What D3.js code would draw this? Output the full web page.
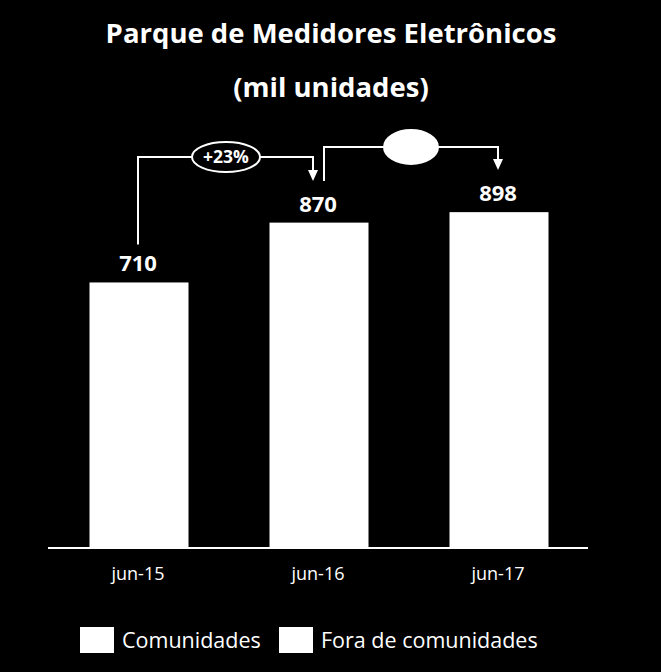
<!DOCTYPE html>
<html>
<head>
<meta charset="utf-8">
<script src="https://cdn.jsdelivr.net/npm/d3@7"></script>
<style>
  html, body { margin: 0; padding: 0; background: #000; }
  svg { display: block; }
  text { font-family: "Open Sans", Lato, sans-serif; fill: #fff; }
</style>
</head>
<body>
<div id="chart"></div>
<script>
// data
var categories = ["jun-15", "jun-16", "jun-17"];
var values = [710, 870, 898];
var growthLabels = ["+23%", ""];
var legendLabels = ["Comunidades", "Fora de comunidades"];
var titleLines = ["Parque de Medidores Eletrônicos", "(mil unidades)"];

var width = 661, height = 672;

var svg = d3.select("#chart")
  .append("svg")
    .attr("width", width)
    .attr("height", height);

svg.append("rect").attr("width", width).attr("height", height).attr("fill", "#000");

// title
svg.selectAll(".title")
  .data(titleLines)
  .enter().append("text")
    .attr("class", "title")
    .attr("x", 331)
    .attr("y", function(d, i) { return 43 + i * 54; })
    .attr("text-anchor", "middle")
    .style("font-weight", "bold")
    .style("font-size", "27.5px")
    .text(function(d) { return d; });

// scales
var x = d3.scaleBand()
  .domain(categories)
  .range([48, 588])
  .paddingInner(0.45)
  .paddingOuter(0.225);

var y = d3.scaleLinear()
  .domain([0, 1000])
  .range([548, 174]);

// bars
svg.selectAll(".bar")
  .data(values)
  .enter().append("rect")
    .attr("class", "bar")
    .attr("x", function(d, i) { return x(categories[i]) + 1; })
    .attr("width", x.bandwidth())
    .attr("y", function(d) { return y(d); })
    .attr("height", function(d) { return y(0) - y(d); })
    .attr("fill", "#fff");

// value labels
svg.selectAll(".val")
  .data(values)
  .enter().append("text")
    .attr("class", "val")
    .attr("x", function(d, i) { return x(categories[i]) + x.bandwidth() / 2; })
    .attr("y", function(d) { return y(d) - 11; })
    .attr("text-anchor", "middle")
    .style("font-weight", "bold")
    .style("font-size", "22px")
    .text(function(d) { return d; });

// x axis
var xAxis = svg.append("g")
  .attr("transform", "translate(0," + y(0) + ")")
  .call(d3.axisBottom(x).tickSize(0).tickPadding(19));
xAxis.select(".domain").attr("stroke", "#fff").attr("stroke-width", 2).attr("d", "M48,0H588");
xAxis.selectAll("text")
  .style("font-size", "18px")
  .attr("fill", "#fff");

// growth brackets
var arrowHead = function(cx, tipY) {
  return "M" + (cx - 5) + "," + (tipY - 11) + "L" + (cx + 5) + "," + (tipY - 11) + "L" + cx + "," + tipY + "Z";
};

var brackets = [
  { from: 0, to: 1, startY: y(values[0]) - 38, lineY: 157, tipY: 181, dx0: 0, dx1: -5, ellX: 226, rx: 34, ry: 15, filled: false },
  { from: 1, to: 2, startY: 181, lineY: 147, tipY: 170, dx0: 6, dx1: 0, ellX: 411, rx: 27, ry: 17, filled: true }
];

brackets.forEach(function(b, i) {
  var x0 = x(categories[b.from]) + x.bandwidth() / 2 + b.dx0;
  var x1 = x(categories[b.to]) + x.bandwidth() / 2 + b.dx1;
  svg.append("path")
    .attr("d", "M" + x0 + "," + b.startY + "V" + b.lineY + "H" + x1 + "V" + (b.tipY - 10))
    .attr("fill", "none")
    .attr("stroke", "#fff")
    .attr("stroke-width", 2);
  svg.append("path")
    .attr("d", arrowHead(x1, b.tipY))
    .attr("fill", "#fff");
  svg.append("ellipse")
    .attr("cx", b.ellX)
    .attr("cy", b.lineY)
    .attr("rx", b.rx)
    .attr("ry", b.ry)
    .attr("fill", b.filled ? "#fff" : "#000")
    .attr("stroke", "#fff")
    .attr("stroke-width", 2);
  svg.append("text")
    .attr("x", b.ellX)
    .attr("y", b.lineY + 6)
    .attr("text-anchor", "middle")
    .style("font-weight", "bold")
    .style("font-size", "17.5px")
    .attr("fill", b.filled ? "#000" : "#fff")
    .text(growthLabels[i]);
});

// legend
var legendX = [80, 279];
var leg = svg.selectAll(".leg")
  .data(legendLabels)
  .enter().append("g")
    .attr("class", "leg")
    .attr("transform", function(d, i) { return "translate(" + legendX[i] + ",627)"; });
leg.append("rect")
  .attr("width", 34)
  .attr("height", 26)
  .attr("fill", "#fff");
leg.append("text")
  .attr("x", 42)
  .attr("y", 21)
  .style("font-size", "21.5px")
  .text(function(d) { return d; });
</script>
</body>
</html>
